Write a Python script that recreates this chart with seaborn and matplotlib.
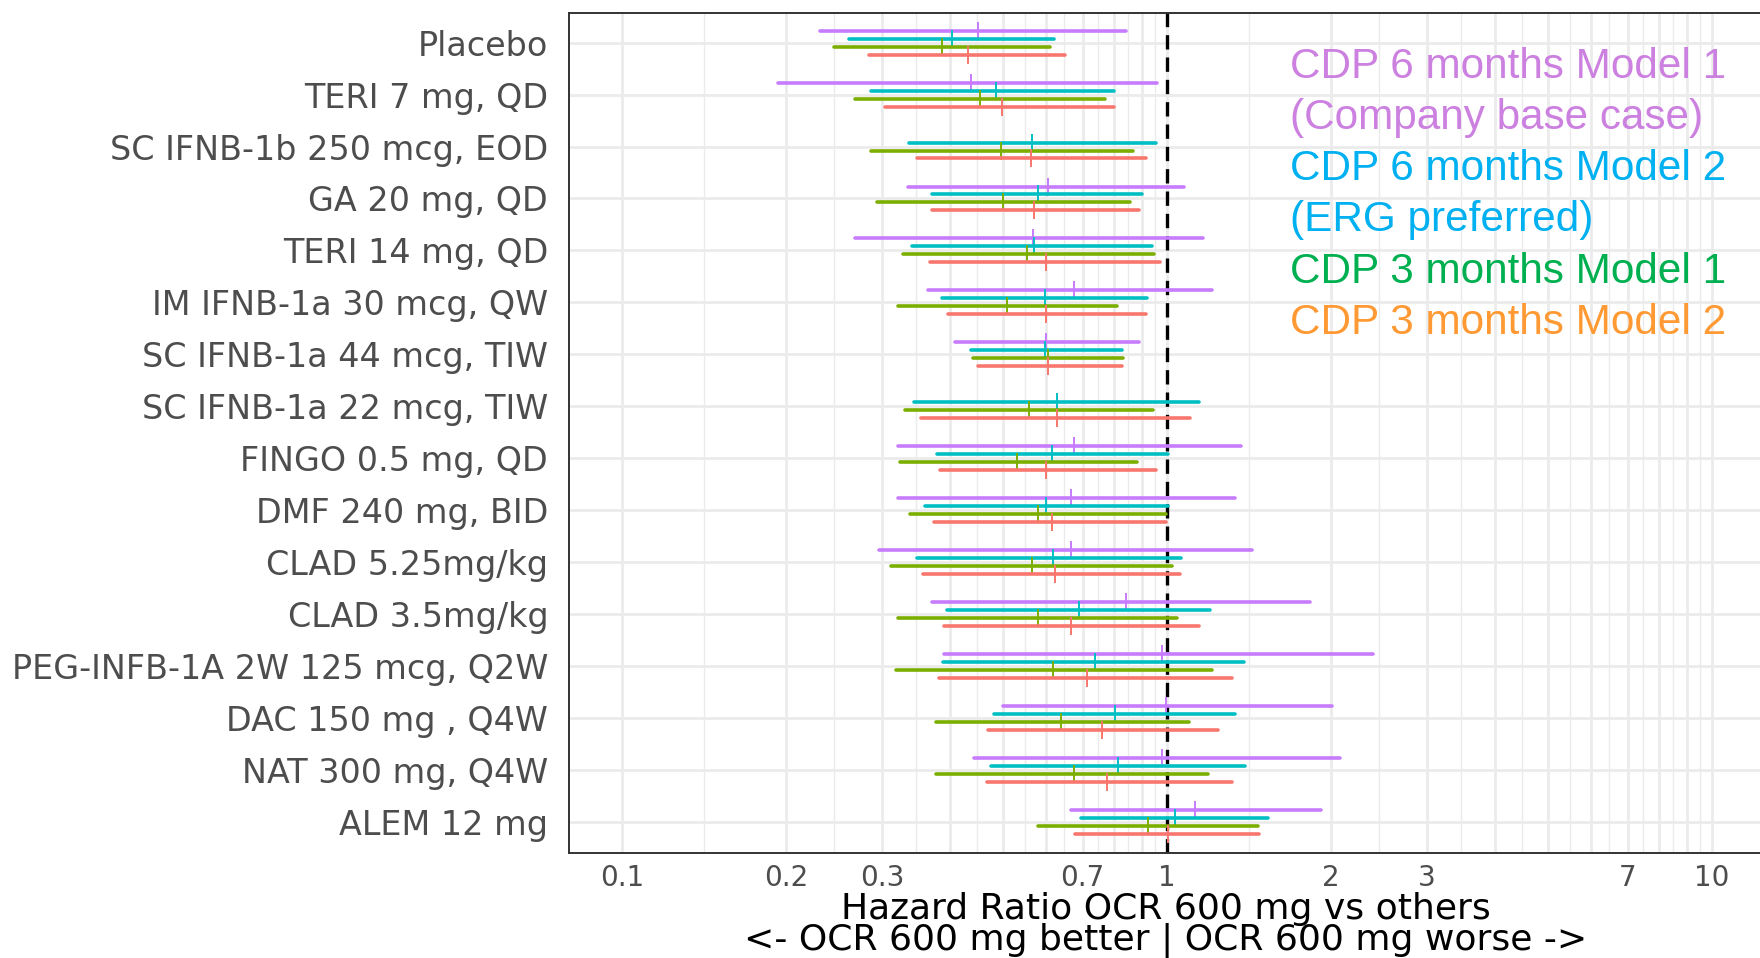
import numpy as np
import pandas as pd
import matplotlib
matplotlib.use("Agg")
import matplotlib.pyplot as plt
import seaborn as sns
from matplotlib.ticker import FixedLocator, FixedFormatter, NullFormatter

# treatments, top to bottom
treatments = ["Placebo", "TERI 7 mg, QD", "SC IFNB-1b 250 mcg, EOD", "GA 20 mg, QD",
              "TERI 14 mg, QD", "IM IFNB-1a 30 mcg, QW", "SC IFNB-1a 44 mcg, TIW",
              "SC IFNB-1a 22 mcg, TIW", "FINGO 0.5 mg, QD", "DMF 240 mg, BID",
              "CLAD 5.25mg/kg", "CLAD 3.5mg/kg", "PEG-INFB-1A 2W 125 mcg, Q2W",
              "DAC 150 mg , Q4W", "NAT 300 mg, Q4W", "ALEM 12 mg"]

models = ["CDP 6 months Model 1", "CDP 6 months Model 2",
          "CDP 3 months Model 1", "CDP 3 months Model 2"]
model_colors = ["#C77CFF", "#00BFC4", "#7CAE00", "#F8766D"]

# hazard ratios: estimate, lower, upper (nan = not available)
nan = np.nan
m6_1_est = [0.449, 0.436, nan, 0.605, 0.567, 0.674, 0.600, nan, 0.674, 0.665, 0.665, 0.841, 0.980, 0.997, 0.978, 1.127]
m6_1_lo = [0.231, 0.193, nan, 0.335, 0.268, 0.364, 0.408, nan, 0.321, 0.321, 0.296, 0.371, 0.389, 0.500, 0.443, 0.665]
m6_1_hi = [0.841, 0.960, nan, 1.073, 1.164, 1.208, 0.887, nan, 1.366, 1.335, 1.432, 1.830, 2.390, 2.010, 2.080, 1.915]

m6_2_est = [0.403, 0.486, 0.565, 0.579, 0.570, 0.596, 0.598, 0.628, 0.616, 0.600, 0.618, 0.688, 0.737, 0.801, 0.812, 1.033]
m6_2_lo = [0.261, 0.286, 0.336, 0.371, 0.341, 0.386, 0.436, 0.343, 0.379, 0.359, 0.348, 0.394, 0.388, 0.481, 0.476, 0.695]
m6_2_hi = [0.620, 0.799, 0.955, 0.900, 0.939, 0.918, 0.827, 1.142, 1.004, 1.004, 1.061, 1.198, 1.384, 1.335, 1.392, 1.535]

m3_1_est = [0.387, 0.454, 0.496, 0.501, 0.554, 0.509, 0.604, 0.558, 0.531, 0.579, 0.564, 0.579, 0.618, 0.640, 0.674, 0.924]
m3_1_lo = [0.245, 0.268, 0.286, 0.294, 0.327, 0.321, 0.440, 0.331, 0.323, 0.338, 0.311, 0.321, 0.318, 0.377, 0.377, 0.579]
m3_1_hi = [0.611, 0.768, 0.865, 0.856, 0.947, 0.809, 0.831, 0.942, 0.882, 0.997, 1.023, 1.045, 1.208, 1.095, 1.188, 1.466]

m3_2_est = [0.431, 0.498, 0.562, 0.570, 0.600, 0.600, 0.605, 0.627, 0.600, 0.614, 0.622, 0.667, 0.714, 0.761, 0.777, 1.004]
m3_2_lo = [0.284, 0.304, 0.347, 0.371, 0.367, 0.397, 0.450, 0.353, 0.383, 0.374, 0.357, 0.390, 0.382, 0.469, 0.467, 0.677]
m3_2_hi = [0.650, 0.798, 0.914, 0.890, 0.969, 0.916, 0.826, 1.100, 0.953, 0.997, 1.057, 1.142, 1.313, 1.240, 1.318, 1.477]

tick_vals = [0.1, 0.2, 0.3, 0.4, 0.5, 0.6, 0.7, 0.8, 0.9, 1, 2, 3, 4, 5, 6, 7, 8, 9, 10]
tick_text = ["0.1", "0.2", "0.3", "", "", "", "0.7", "", "", "1", "2", "3", "", "", "", "7", "", "", "10"]

# long table: lo / est / hi rows, median -> estimate, 100% interval -> CI
rows = []
series = [(m6_1_est, m6_1_lo, m6_1_hi), (m6_2_est, m6_2_lo, m6_2_hi),
          (m3_1_est, m3_1_lo, m3_1_hi), (m3_2_est, m3_2_lo, m3_2_hi)]
for model, (est, lo, hi) in zip(models, series):
    for i, trt in enumerate(treatments):
        if np.isnan(est[i]):
            continue
        for v in (lo[i], est[i], hi[i]):
            rows.append({"treatment": trt, "model": model, "hr": v})
df = pd.DataFrame(rows)

sns.set_style("white")
plt.rcParams["font.family"] = ["DejaVu Sans"]

fig = plt.figure(figsize=(17.6, 9.58), dpi=100)
ax = fig.add_axes([569 / 1760, 105 / 958, 1193 / 1760, 840 / 958])

ax.axvline(1, color="black", lw=2.4, ls=(0, (4.3, 2.4)), zorder=1)

sns.pointplot(data=df, x="hr", y="treatment", hue="model", order=treatments,
              hue_order=models, palette=model_colors, estimator="median",
              errorbar=("pi", 100), dodge=0.46, markers="|", linestyle="none",
              markersize=13.5, markeredgewidth=1.4, err_kws={"linewidth": 2.6},
              log_scale=True, legend=False, ax=ax)

ax.set_xlim(0.0799, 12.35)
ax.set_ylim(15.605, -0.572)

ax.xaxis.set_major_locator(FixedLocator(tick_vals))
ax.xaxis.set_major_formatter(FixedFormatter(tick_text))
mids = [np.sqrt(a * b) for a, b in zip(tick_vals[:-1], tick_vals[1:])]
ax.xaxis.set_minor_locator(FixedLocator(mids))
ax.xaxis.set_minor_formatter(NullFormatter())

ax.grid(which="major", color="#EBEBEB", lw=2.0, zorder=0)
ax.grid(which="minor", axis="x", color="#EBEBEB", lw=1.0, zorder=0)
ax.set_axisbelow(True)

ax.tick_params(axis="both", which="major", length=6, width=1.4, color="#333333",
               labelcolor="#4D4D4D")
ax.tick_params(axis="x", which="major", labelsize=20, pad=2)
ax.tick_params(axis="y", which="major", labelsize=24, pad=9)
ax.tick_params(axis="x", which="minor", length=0)

for side in ["left", "bottom", "top"]:
    ax.spines[side].set_visible(True)
    ax.spines[side].set_color("#333333")
    ax.spines[side].set_linewidth(1.4)
ax.spines["right"].set_visible(False)

ax.set_ylabel("")
ax.set_xlabel("Hazard Ratio OCR 600 mg vs others\n<- OCR 600 mg better | OCR 600 mg worse ->",
              fontsize=26, linespacing=0.85, color="black")
ax.xaxis.set_label_coords(0.5, -0.047)

# coloured legend text
legend_lines = ["CDP 6 months Model 1", "(Company base case)", "CDP 6 months Model 2",
                "(ERG preferred)", "CDP 3 months Model 1", "CDP 3 months Model 2"]
legend_colors = ["#CC80E0", "#CC80E0", "#00B0F0", "#00B0F0", "#00B050", "#FF9933"]
baselines = [78, 129, 180, 231, 283, 334]
for txt, col, yb in zip(legend_lines, legend_colors, baselines):
    fig.text(1290 / 1760, 1 - yb / 958, txt, color=col, fontsize=30.4,
             family="Liberation Sans", va="baseline", ha="left")

plt.savefig("out.png", dpi=100)
